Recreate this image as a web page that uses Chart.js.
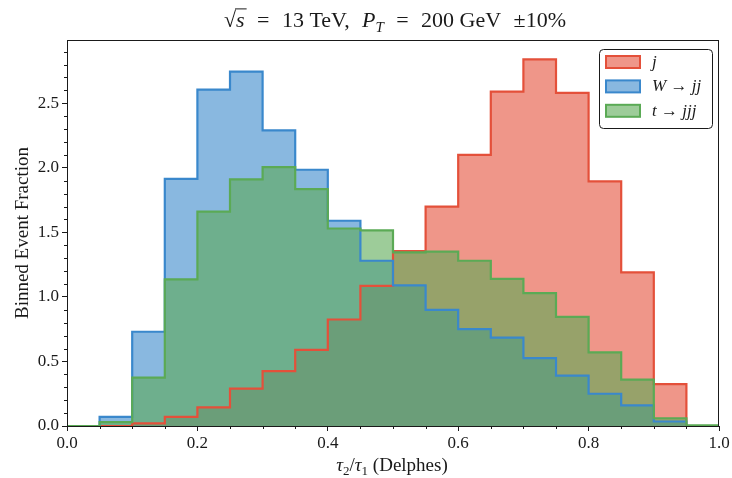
<!DOCTYPE html>
<html>
<head>
<meta charset="utf-8">
<script src="https://cdn.jsdelivr.net/npm/chart.js@4.4.1/dist/chart.umd.min.js"></script>
<style>
  html, body { margin: 0; padding: 0; background: #fff; }
  #chart { display: block; }
</style>
</head>
<body>
<canvas id="chart" width="732" height="478"></canvas>
<script>
// --- data (bin edges 0.00 .. 1.00, width 0.05) ---
const binEdges = [0.00, 0.05, 0.10, 0.15, 0.20, 0.25, 0.30, 0.35, 0.40, 0.45, 0.50,
                  0.55, 0.60, 0.65, 0.70, 0.75, 0.80, 0.85, 0.90, 0.95, 1.00];

const jetValues = [0.00, 0.00, 0.02, 0.07, 0.145, 0.29, 0.425, 0.59, 0.825, 1.085,
                   1.355, 1.70, 2.10, 2.59, 2.84, 2.58, 1.895, 1.19, 0.325, 0.00];
const wValues   = [0.00, 0.07, 0.73, 1.915, 2.605, 2.745, 2.29, 1.985, 1.59, 1.28,
                   1.09, 0.90, 0.75, 0.685, 0.525, 0.39, 0.25, 0.16, 0.035, 0.00];
const topValues = [0.00, 0.03, 0.375, 1.135, 1.66, 1.91, 2.005, 1.835, 1.53, 1.515,
                   1.345, 1.35, 1.28, 1.14, 1.03, 0.845, 0.57, 0.36, 0.06, 0.005];

const xTickValues = [0.0, 0.2, 0.4, 0.6, 0.8, 1.0];
const yTickValues = [0.0, 0.5, 1.0, 1.5, 2.0, 2.5];
const xMinorTicks = [0.05, 0.1, 0.15, 0.25, 0.3, 0.35, 0.45, 0.5, 0.55, 0.65, 0.7, 0.75, 0.85, 0.9, 0.95];
const yMinorTicks = [0.1, 0.2, 0.3, 0.4, 0.6, 0.7, 0.8, 0.9, 1.1, 1.2, 1.3, 1.4, 1.6, 1.7, 1.8, 1.9,
                     2.1, 2.2, 2.3, 2.4, 2.6, 2.7, 2.8, 2.9];

const FONT = '"Liberation Serif", "Times New Roman", serif';
const INK = '#1a1a1a';

const RED = '#E4503A', BLUE = '#3A88CC', GREEN = '#5BAA55';
function fade(hex, a) {
  const n = parseInt(hex.slice(1), 16);
  return `rgba(${n >> 16},${(n >> 8) & 255},${n & 255},${a})`;
}

// histogram outline: value of each bin sits on its left edge, closes to 0 at 1.0
function steps(values) {
  return binEdges.map((x, i) => ({ x, y: i < values.length ? values[i] : 0 }));
}

// --- small rich-text helper (italic / subscript / overline / stretchable gaps) ---
function segFont(s, size) {
  return (s.it ? 'italic ' : '') + (s.sub ? Math.round(size * 0.7) : size) + 'px ' + FONT;
}
function drawRich(ctx, segs, x, baseline, size, align, boxWidth) {
  let natural = 0, gapWeight = 0;
  segs.forEach(s => {
    if (s.gap) { gapWeight += s.gap; return; }
    ctx.font = segFont(s, size);
    natural += ctx.measureText(s.t).width;
  });
  const unit = boxWidth && gapWeight ? Math.max(0, boxWidth - natural) / gapWeight : 0;
  const total = natural + unit * gapWeight;
  if (align === 'center') x -= total / 2;
  ctx.textAlign = 'left';
  ctx.textBaseline = 'alphabetic';
  segs.forEach(s => {
    if (s.gap) { x += s.gap * unit; return; }
    ctx.font = segFont(s, size);
    const w = ctx.measureText(s.t).width;
    ctx.fillText(s.t, x, baseline + (s.sub ? size * 0.24 : 0));
    if (s.over) {
      ctx.lineWidth = 1;
      ctx.beginPath();
      ctx.moveTo(x - 1, baseline - size * 0.80);
      ctx.lineTo(x + w + 2, baseline - size * 0.80);
      ctx.stroke();
    }
    x += w;
  });
}

// title: gaps stand for matplotlib mathtext spacing around relations
const titleSegs = [
  { t: '\u221A' }, { t: 's', it: true, over: true }, { gap: 1.5 }, { t: '=' }, { gap: 1.5 },
  { t: '13 TeV,' }, { gap: 1.5 }, { t: 'P', it: true }, { t: 'T', it: true, sub: true },
  { gap: 1.5 }, { t: '=' }, { gap: 1.5 }, { t: '200 GeV' }, { gap: 1.5 }, { t: '\u00B1' }, { t: '10%' }
];
const xLabelSegs = [
  { t: '\u03C4', it: true }, { t: '2', sub: true }, { t: '/' },
  { t: '\u03C4', it: true }, { t: '1', sub: true }, { t: ' (Delphes)' }
];
const legendRows = [
  { color: RED,   segs: [{ t: 'j', it: true }] },
  { color: BLUE,  segs: [{ t: 'W', it: true }, { t: ' \u2192 ' }, { t: 'jj', it: true }] },
  { color: GREEN, segs: [{ t: 't', it: true }, { t: ' \u2192 ' }, { t: 'jjj', it: true }] }
];

// --- everything matplotlib draws that Chart.js doesn't: frame, minor ticks, texts, legend ---
const decorations = {
  id: 'decorations',
  afterDraw(chart) {
    const { ctx, chartArea: a, scales: { x, y } } = chart;
    ctx.save();
    ctx.strokeStyle = INK;
    ctx.fillStyle = INK;

    // frame
    ctx.lineWidth = 1;
    ctx.strokeRect(a.left + 0.5, a.top + 0.5, a.right - a.left - 1, a.bottom - a.top);

    // minor ticks
    ctx.beginPath();
    xMinorTicks.forEach(v => {
      const px = Math.round(x.getPixelForValue(v)) + 0.5;
      ctx.moveTo(px, a.bottom); ctx.lineTo(px, a.bottom + 3);
    });
    yMinorTicks.forEach(v => {
      const py = Math.round(y.getPixelForValue(v)) + 0.5;
      ctx.moveTo(a.left, py); ctx.lineTo(a.left - 3, py);
    });
    ctx.stroke();

    // title + x label
    drawRich(ctx, titleSegs, 395, 26.5, 22, 'center', 342);
    drawRich(ctx, xLabelSegs, 392, 470.5, 19, 'center');

    // y label
    ctx.save();
    ctx.translate(23, (a.top + a.bottom) / 2);
    ctx.rotate(-Math.PI / 2);
    ctx.font = '19px ' + FONT;
    ctx.textAlign = 'center';
    ctx.textBaseline = 'middle';
    ctx.fillText('Binned Event Fraction', 0, 0);
    ctx.restore();

    // legend box
    const bx = 599, by = 49, bw = 113, bh = 79;
    ctx.beginPath();
    ctx.roundRect(bx + 0.5, by + 0.5, bw, bh, 4);
    ctx.fillStyle = 'rgba(255,255,255,0.85)';
    ctx.fill();
    ctx.lineWidth = 1;
    ctx.strokeStyle = INK;
    ctx.stroke();
    legendRows.forEach((r, i) => {
      const cy = by + 13 + i * 24.4;
      ctx.fillStyle = fade(r.color, 0.6);
      ctx.fillRect(606, cy - 6, 34, 12);
      ctx.strokeStyle = r.color;
      ctx.lineWidth = 2;
      ctx.strokeRect(606, cy - 6, 34, 12);
      ctx.fillStyle = INK;
      drawRich(ctx, r.segs, 652, cy + 5, 17, 'left');
    });
    ctx.restore();
  }
};

function histDataset(label, values, color, order) {
  return {
    label,
    data: steps(values),
    stepped: 'before',
    borderColor: color,
    backgroundColor: fade(color, 0.6),
    borderWidth: 2.2,
    fill: 'origin',
    pointRadius: 0,
    order
  };
}

new Chart(document.getElementById('chart'), {
  type: 'line',
  data: {
    datasets: [
      histDataset('j', jetValues, RED, 3),
      histDataset('W \u2192 jj', wValues, BLUE, 2),
      histDataset('t \u2192 jjj', topValues, GREEN, 1)
    ]
  },
  options: {
    responsive: false,
    animation: false,
    layout: { padding: { top: 40, right: 13, left: 0, bottom: 0 } },
    plugins: {
      legend: { display: false },
      title: { display: false },
      tooltip: { enabled: false },
      filler: { drawTime: 'beforeDatasetsDraw' }
    },
    scales: {
      x: {
        type: 'linear',
        min: 0, max: 1,
        afterFit: s => { s.height = 52; },
        afterBuildTicks: s => { s.ticks = xTickValues.map(value => ({ value })); },
        ticks: { color: INK, font: { family: FONT, size: 17 }, padding: 2, maxRotation: 0,
                 callback: v => v.toFixed(1) },
        grid: { drawOnChartArea: false, tickLength: 5, tickColor: INK },
        border: { color: INK }
      },
      y: {
        min: 0, max: 2.99,
        afterFit: s => { s.width = 67; },
        afterBuildTicks: s => { s.ticks = yTickValues.map(value => ({ value })); },
        ticks: { color: INK, font: { family: FONT, size: 17 }, padding: 3,
                 callback: v => v.toFixed(1) },
        grid: { drawOnChartArea: false, tickLength: 5, tickColor: INK },
        border: { color: INK }
      }
    }
  },
  plugins: [decorations]
});
</script>
</body>
</html>
